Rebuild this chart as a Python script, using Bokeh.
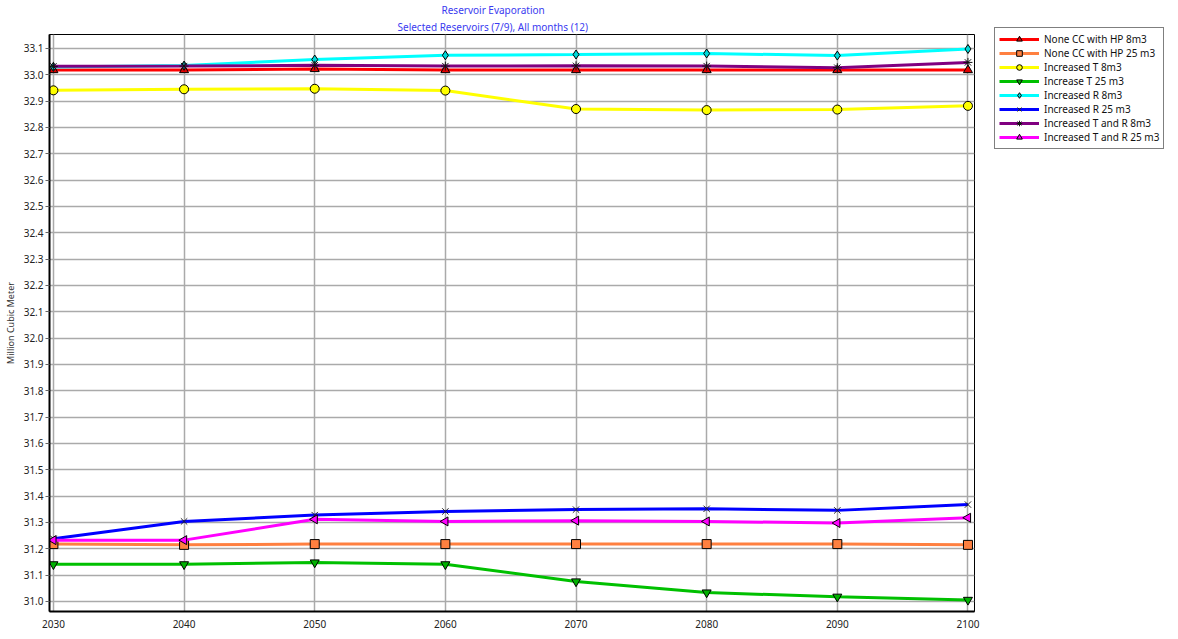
import math
from bokeh.plotting import figure
from bokeh.models import (Range1d, FixedTicker, Legend, LegendItem, Title,
                          PrintfTickFormatter)
from bokeh.embed import file_html
from bokeh.resources import INLINE

years = [2030, 2040, 2050, 2060, 2070, 2080, 2090, 2100]

none_cc_8 = [33.018, 33.018, 33.022, 33.018, 33.018, 33.018, 33.018, 33.018]
none_cc_25 = [31.218, 31.215, 31.218, 31.218, 31.218, 31.218, 31.218, 31.215]
inc_t_8 = [32.941, 32.945, 32.947, 32.940, 32.870, 32.866, 32.868, 32.882]
inc_t_25 = [31.141, 31.141, 31.148, 31.141, 31.076, 31.034, 31.018, 31.006]
inc_r_8 = [33.030, 33.035, 33.058, 33.074, 33.077, 33.081, 33.073, 33.098]
inc_r_25 = [31.238, 31.304, 31.328, 31.342, 31.349, 31.352, 31.346, 31.368]
inc_tr_8 = [33.032, 33.033, 33.036, 33.033, 33.034, 33.033, 33.027, 33.047]
inc_tr_25 = [31.233, 31.233, 31.312, 31.304, 31.307, 31.304, 31.298, 31.318]

y_ticks = [31.0, 31.1, 31.2, 31.3, 31.4, 31.5, 31.6, 31.7, 31.8, 31.9, 32.0,
           32.1, 32.2, 32.3, 32.4, 32.5, 32.6, 32.7, 32.8, 32.9, 33.0, 33.1]

FONT = "Noto Sans"
FW, FH = 925, 577
ROW, PAD = 14, 4

p = figure(frame_width=FW, frame_height=FH, output_backend="svg", toolbar_location=None,
           x_range=Range1d(2029.7, 2100.5), y_range=Range1d(30.962, 33.153),
           min_border_left=4, min_border_top=2, min_border_bottom=2,
           min_border_right=192)

p.add_layout(Title(text="Selected Reservoirs (7/9),  All months (12)", align="left",
                   text_font=FONT, text_font_size="10px", text_font_style="normal",
                   text_color="#3a3af0", standoff=2, offset=348), "above")
p.add_layout(Title(text="Reservoir Evaporation", align="left",
                   text_font=FONT, text_font_size="10px", text_font_style="normal",
                   text_color="#3a3af0", standoff=0, offset=392), "above")

p.outline_line_color = "black"
p.outline_line_width = 1

p.xaxis.ticker = FixedTicker(ticks=years)
p.yaxis.ticker = FixedTicker(ticks=y_ticks)
p.yaxis.formatter = PrintfTickFormatter(format="%.1f")
for ax in (p.xaxis, p.yaxis):
    ax.axis_line_color = "black"
    ax.axis_line_width = 2
    ax.major_label_text_font = FONT
    ax.major_label_text_font_size = "10px"
    ax.major_label_text_color = "#222222"
    ax.minor_tick_line_color = None
    ax.major_label_standoff = 2
p.xaxis.major_tick_line_color = None
p.yaxis.major_tick_line_color = "#666666"
p.yaxis.major_tick_out = 4
p.yaxis.major_tick_in = 0
p.yaxis.axis_label = "Million Cubic Meter"
p.yaxis.axis_label_text_font = FONT
p.yaxis.axis_label_text_font_size = "9px"
p.yaxis.axis_label_text_font_style = "normal"
p.yaxis.axis_label_text_color = "#333333"
p.yaxis.axis_label_standoff = 4

p.grid.grid_line_color = "#aaaaaa"
p.grid.grid_line_width = 1.5

series = [
    ("None CC with HP 8m3", none_cc_8, "#ff0000", "triangle", "#e00000", "black", 0),
    ("None CC with HP 25 m3", none_cc_25, "#ff8040", "square", "#ff8040", "black", 0),
    ("Increased T 8m3", inc_t_8, "#ffff00", "circle", "#ffff00", "black", 0),
    ("Increase T 25 m3", inc_t_25, "#00c000", "inverted_triangle", "#00b000", "black", 0),
    ("Increased R 8m3", inc_r_8, "#00ffff", "diamond", "#00d8d8", "black", 0),
    ("Increased R 25 m3", inc_r_25, "#0000ff", "x", None, "#222222", 0),
    ("Increased T and R 8m3", inc_tr_8, "#800080", "asterisk", None, "#111111", 0),
    ("Increased T and R 25 m3", inc_tr_25, "#ff00ff", "triangle", "#ff00ff", "black", math.pi / 2),
]

items = []
for name, vals, col, mk, fill, mline, ang in series:
    ln = p.line(years, vals, line_color=col, line_width=3)
    sc = p.scatter(years, vals, marker=mk, size=9, fill_color=fill,
                   line_color=mline, line_width=1, angle=ang)
    items.append(LegendItem(label=name, renderers=[ln, sc]))

leg_h = len(items) * ROW + 2 * PAD
legend = Legend(items=items, location=(20, FH + 5 - leg_h))
legend.label_text_font = FONT
legend.label_text_font_size = "10px"
legend.label_text_color = "#111111"
legend.border_line_color = "black"
legend.border_line_width = 1
legend.glyph_width = 40
legend.glyph_height = ROW
legend.label_height = ROW
legend.spacing = 0
legend.padding = PAD
legend.label_standoff = 5
legend.margin = 0
p.add_layout(legend, "right")

open("out.html", "w").write(file_html(p, INLINE))
